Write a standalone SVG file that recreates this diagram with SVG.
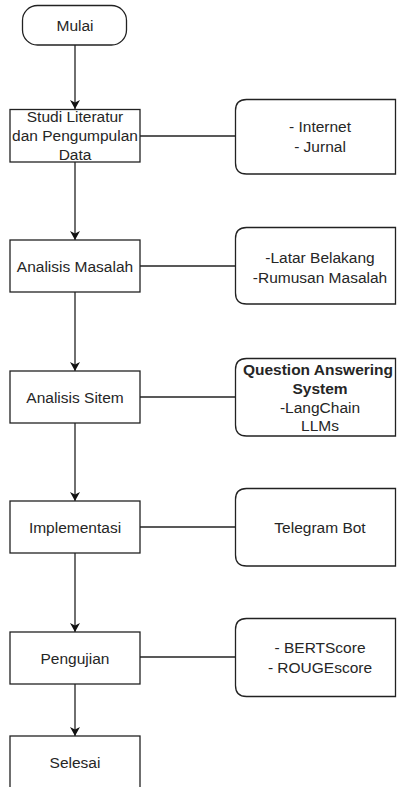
<svg xmlns="http://www.w3.org/2000/svg" width="397" height="787" viewBox="0 0 397 787">
<style>
.box{fill:#fff;stroke:#222;stroke-width:1.3}
.edge{fill:none;stroke:#222;stroke-width:1.3}
text{font-family:"Liberation Sans",Arial,sans-serif;font-size:15.5px;fill:#262626;text-anchor:middle}
.b{font-weight:bold}
</style>
<defs>
<marker id="arr" markerWidth="10" markerHeight="10" refX="9" refY="5" orient="auto" markerUnits="userSpaceOnUse">
<path d="M0,0 L9,5 L0,10 L2.5,5 Z" fill="#111"/>
</marker>
</defs>
<rect width="397" height="787" fill="#fff"/>
<g id="connectors">
<line class="edge" x1="75" y1="45" x2="75" y2="109" marker-end="url(#arr)"/>
<line class="edge" x1="75" y1="162" x2="75" y2="240" marker-end="url(#arr)"/>
<line class="edge" x1="75" y1="292" x2="75" y2="371" marker-end="url(#arr)"/>
<line class="edge" x1="75" y1="423" x2="75" y2="501" marker-end="url(#arr)"/>
<line class="edge" x1="75" y1="553" x2="75" y2="632" marker-end="url(#arr)"/>
<line class="edge" x1="75" y1="684" x2="75" y2="736" marker-end="url(#arr)"/>
<line class="edge" x1="140" y1="136" x2="235.5" y2="136"/>
<line class="edge" x1="140" y1="266" x2="235.5" y2="266"/>
<line class="edge" x1="140" y1="397" x2="235.5" y2="397"/>
<line class="edge" x1="140" y1="527" x2="235.5" y2="527"/>
<line class="edge" x1="140" y1="657" x2="235.5" y2="657"/>
</g>
<g id="mulai">
<rect class="box" x="22.5" y="5.5" width="104" height="39.5" rx="15"/>
<text x="75" y="30.5">Mulai</text>
</g>
<g id="studi">
<rect class="box" x="10" y="109.5" width="130" height="52.5"/>
<text x="75" y="122">Studi Literatur</text>
<text x="75" y="141">dan Pengumpulan</text>
<text x="75" y="160">Data</text>
</g>
<g id="analisis-masalah">
<rect class="box" x="10" y="240" width="130" height="52"/>
<text x="75" y="271.5">Analisis Masalah</text>
</g>
<g id="analisis-sitem">
<rect class="box" x="10" y="371" width="130" height="52"/>
<text x="75" y="402.5">Analisis Sitem</text>
</g>
<g id="implementasi">
<rect class="box" x="10" y="501" width="130" height="52"/>
<text x="75" y="532.5">Implementasi</text>
</g>
<g id="pengujian">
<rect class="box" x="10" y="632" width="130" height="52"/>
<text x="75" y="663.5">Pengujian</text>
</g>
<g id="selesai">
<rect class="box" x="10" y="736" width="130" height="60"/>
<text x="75" y="767.5">Selesai</text>
</g>
<g id="sumber">
<path class="box" d="M246.5,99.5 H395.5 V174 H246.5 Q235.5,174 235.5,163 V110.5 Q235.5,99.5 246.5,99.5 Z"/>
<text x="320" y="131.5">- Internet</text>
<text x="320" y="152">- Jurnal</text>
</g>
<g id="masalah">
<path class="box" d="M246.5,227.5 H395.5 V304 H246.5 Q235.5,304 235.5,293 V238.5 Q235.5,227.5 246.5,227.5 Z"/>
<text x="320" y="262.5">-Latar Belakang</text>
<text x="320" y="282.5">-Rumusan Masalah</text>
</g>
<g id="qas">
<path class="box" d="M246.5,358.5 H395.5 V436 H246.5 Q235.5,436 235.5,425 V369.5 Q235.5,358.5 246.5,358.5 Z"/>
<text class="b" x="318" y="374.5">Question Answering</text>
<text class="b" x="320" y="393.5">System</text>
<text x="320" y="412.5">-LangChain</text>
<text x="320" y="431">LLMs</text>
</g>
<g id="telegram">
<path class="box" d="M246.5,488.5 H395.5 V566 H246.5 Q235.5,566 235.5,555 V499.5 Q235.5,488.5 246.5,488.5 Z"/>
<text x="320" y="532.5">Telegram Bot</text>
</g>
<g id="metrik">
<path class="box" d="M246.5,618.5 H395.5 V696.5 H246.5 Q235.5,696.5 235.5,685.5 V629.5 Q235.5,618.5 246.5,618.5 Z"/>
<text x="320" y="652.5">- BERTScore</text>
<text x="320" y="672.5">- ROUGEscore</text>
</g>
</svg>
